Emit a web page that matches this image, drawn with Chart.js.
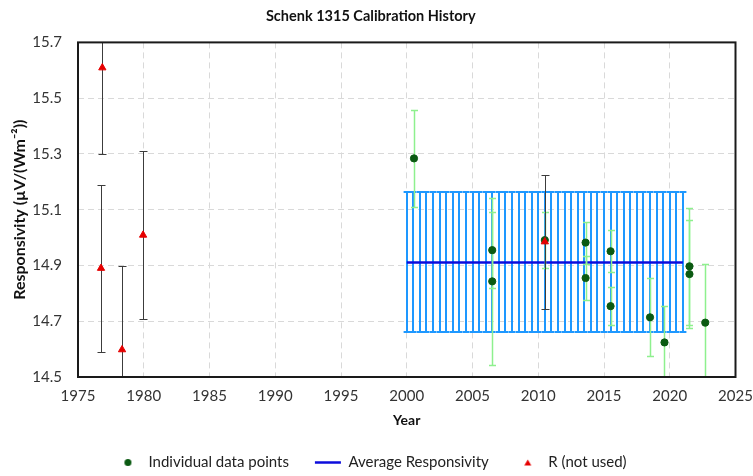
<!DOCTYPE html>
<html>
<head>
<meta charset="utf-8">
<script src="https://cdn.jsdelivr.net/npm/chart.js@4"></script>
<style>
html, body { margin: 0; padding: 0; background: #fff; }
</style>
</head>
<body>
<canvas id="calChart" width="753" height="476"></canvas>
<script>
// individual calibration points (green) with their uncertainties
const pointYears = [2000.55, 2006.5, 2006.5, 2010.5, 2013.6, 2013.6, 2015.5, 2015.5, 2018.5, 2019.6, 2021.5, 2021.5, 2022.7];
const pointValues = [15.284, 14.955, 14.843, 14.991, 14.982, 14.855, 14.951, 14.754, 14.714, 14.624, 14.897, 14.869, 14.695];
const pointErrors = [0.175, 0.135, 0.30, 0.10, 0.075, 0.08, 0.075, 0.068, 0.14, 0.13, 0.21, 0.195, 0.21];

// R values that were not used (red triangles)
const rYears = [1976.85, 1976.75, 1978.35, 1979.95, 2010.5];
const rValues = [15.609, 14.89, 14.598, 15.009, 14.985];
const rErrors = [0.31, 0.30, 0.30, 0.30, 0.24];

// average responsivity and its uncertainty band
const avgYears = [2000, 2000.5, 2001, 2001.5, 2002, 2002.5, 2003, 2003.5, 2004, 2004.5,
                  2005, 2005.5, 2006, 2006.5, 2007, 2007.5, 2008, 2008.5, 2009, 2009.5,
                  2010, 2010.5, 2011, 2011.5, 2012, 2012.5, 2013, 2013.5, 2014, 2014.5,
                  2015, 2015.5, 2016, 2016.5, 2017, 2017.5, 2018, 2018.5, 2019, 2019.5,
                  2020, 2020.5, 2021];
const avgValue = 14.911;
const avgError = 0.251;

const yTicks = [14.5, 14.7, 14.9, 15.1, 15.3, 15.5, 15.7];
const FONT = "Lato, 'Open Sans', sans-serif";

// small legend markers
const dotImg = document.createElement("canvas");
dotImg.width = 9; dotImg.height = 9;
(function () {
    const c = dotImg.getContext("2d");
    c.fillStyle = "#0b5a12";
    c.beginPath(); c.arc(4.5, 4.5, 3.5, 0, Math.PI * 2); c.fill();
})();
const triImg = document.createElement("canvas");
triImg.width = 9; triImg.height = 9;
(function () {
    const c = triImg.getContext("2d");
    c.fillStyle = "#e60000";
    c.beginPath(); c.moveTo(4.5, 1.5); c.lineTo(8, 7.5); c.lineTo(1, 7.5); c.closePath(); c.fill();
})();

const errorBarPlugin = {
    id: "errorBars",
    beforeDatasetDraw(chart, args) {
        const ds = chart.data.datasets[args.index];
        if (!ds.errors) return;
        const ctx = chart.ctx;
        const xs = chart.scales.x, ys = chart.scales.y, a = chart.chartArea;
        ctx.save();
        ctx.beginPath();
        ctx.rect(a.left, a.top, a.right - a.left, a.bottom - a.top);
        ctx.clip();
        ctx.strokeStyle = ds.errorColor;
        ctx.lineWidth = ds.errorWidth;
        const off = ds.errorWidth % 2 ? 0.5 : 0;
        ds.data.forEach((p, i) => {
            const e = ds.errors[i];
            const x = Math.round(xs.getPixelForValue(p.x)) + off;
            const y1 = Math.round(ys.getPixelForValue(p.y + e)) + off;
            const y2 = Math.round(ys.getPixelForValue(p.y - e)) + off;
            const c = ds.capSize;
            ctx.beginPath();
            ctx.moveTo(x, y1); ctx.lineTo(x, y2);
            ctx.moveTo(x - c, y1); ctx.lineTo(x + c, y1);
            ctx.moveTo(x - c, y2); ctx.lineTo(x + c, y2);
            ctx.stroke();
        });
        ctx.restore();
    }
};

const framePlugin = {
    id: "frame",
    afterDatasetsDraw(chart) {
        const a = chart.chartArea, ctx = chart.ctx;
        ctx.save();
        ctx.strokeStyle = "#1a1a1a";
        ctx.lineWidth = 2;
        ctx.strokeRect(a.left, a.top, a.right - a.left, a.bottom - a.top);
        ctx.restore();
    }
};

const chart = new Chart(document.getElementById("calChart"), {
    type: "scatter",
    data: {
        datasets: [
            {
                label: "Individual data points",
                data: pointYears.map((x, i) => ({ x: x, y: pointValues[i] })),
                errors: pointErrors,
                errorColor: "#8ef08e",
                errorWidth: 1.5,
                capSize: 3.5,
                backgroundColor: "#0b5a12",
                borderColor: "#0b5a12",
                pointRadius: 3.6,
                pointHoverRadius: 3.6,
                order: 1
            },
            {
                label: "Average Responsivity",
                data: avgYears.map(x => ({ x: x, y: avgValue })),
                errors: avgYears.map(() => avgError),
                errorColor: "#1e98ff",
                errorWidth: 2,
                capSize: 3.4,
                showLine: true,
                borderColor: "#0c0cdc",
                backgroundColor: "#0c0cdc",
                borderWidth: 2.5,
                pointRadius: 0,
                pointHoverRadius: 0,
                pointStyle: "line",
                order: 2
            },
            {
                label: "R (not used)",
                data: rYears.map((x, i) => ({ x: x, y: rValues[i] })),
                errors: rErrors,
                errorColor: "#3c3c3c",
                errorWidth: 1,
                capSize: 4,
                pointStyle: "triangle",
                backgroundColor: "#e60000",
                borderColor: "#e60000",
                pointRadius: 4.2,
                pointHoverRadius: 4.2,
                order: 0
            }
        ]
    },
    options: {
        responsive: false,
        animation: false,
        layout: { padding: { left: 6, right: 17.5, bottom: -4 } },
        scales: {
            x: {
                type: "linear",
                min: 1975,
                max: 2025,
                afterFit: s => { s.height = 52; s.paddingRight = 0; s.paddingLeft = 0; },
                ticks: { stepSize: 5, padding: 10, color: "#333", font: { family: FONT, size: 15 },
                         callback: v => String(v) },
                grid: { color: "#d9d9d9", lineWidth: 1, drawTicks: false },
                border: { display: false, dash: [6, 4] },
                title: { display: true, text: "Year", color: "#111", padding: { top: 4, bottom: 0 },
                         font: { family: FONT, size: 14, weight: "bold" } }
            },
            y: {
                min: 14.5,
                max: 15.7,
                afterBuildTicks: s => { s.ticks = yTicks.map(v => ({ value: v })); },
                afterFit: s => { s.width = 72; },
                ticks: { padding: 16, color: "#333", font: { family: FONT, size: 15 },
                         callback: v => Number(v).toFixed(1) },
                grid: { color: "#d9d9d9", lineWidth: 1, drawTicks: false },
                border: { display: false, dash: [6, 4] },
                title: { display: true, text: "Responsivity (µV/(Wm⁻²))", color: "#111",
                         padding: { top: 4, bottom: 0 },
                         font: { family: FONT, size: 16, weight: "bold" } }
            }
        },
        plugins: {
            title: {
                display: true,
                text: "Schenk 1315 Calibration History",
                color: "#111",
                font: { family: FONT, size: 14.5, weight: "bold" },
                padding: { top: 8, bottom: 17 }
            },
            legend: {
                position: "bottom",
                labels: {
                    usePointStyle: true,
                    pointStyleWidth: 26,
                    boxHeight: 6,
                    padding: 26,
                    color: "#222",
                    font: { family: FONT, size: 15 },
                    sort: (a, b) => a.datasetIndex - b.datasetIndex,
                    generateLabels: c => {
                        const items = Chart.defaults.plugins.legend.labels.generateLabels(c);
                        items.forEach(it => {
                            if (it.datasetIndex === 0) it.pointStyle = dotImg;
                            if (it.datasetIndex === 2) it.pointStyle = triImg;
                        });
                        return items;
                    }
                }
            },
            tooltip: { enabled: false }
        }
    },
    plugins: [errorBarPlugin, framePlugin]
});
</script>
</body>
</html>
